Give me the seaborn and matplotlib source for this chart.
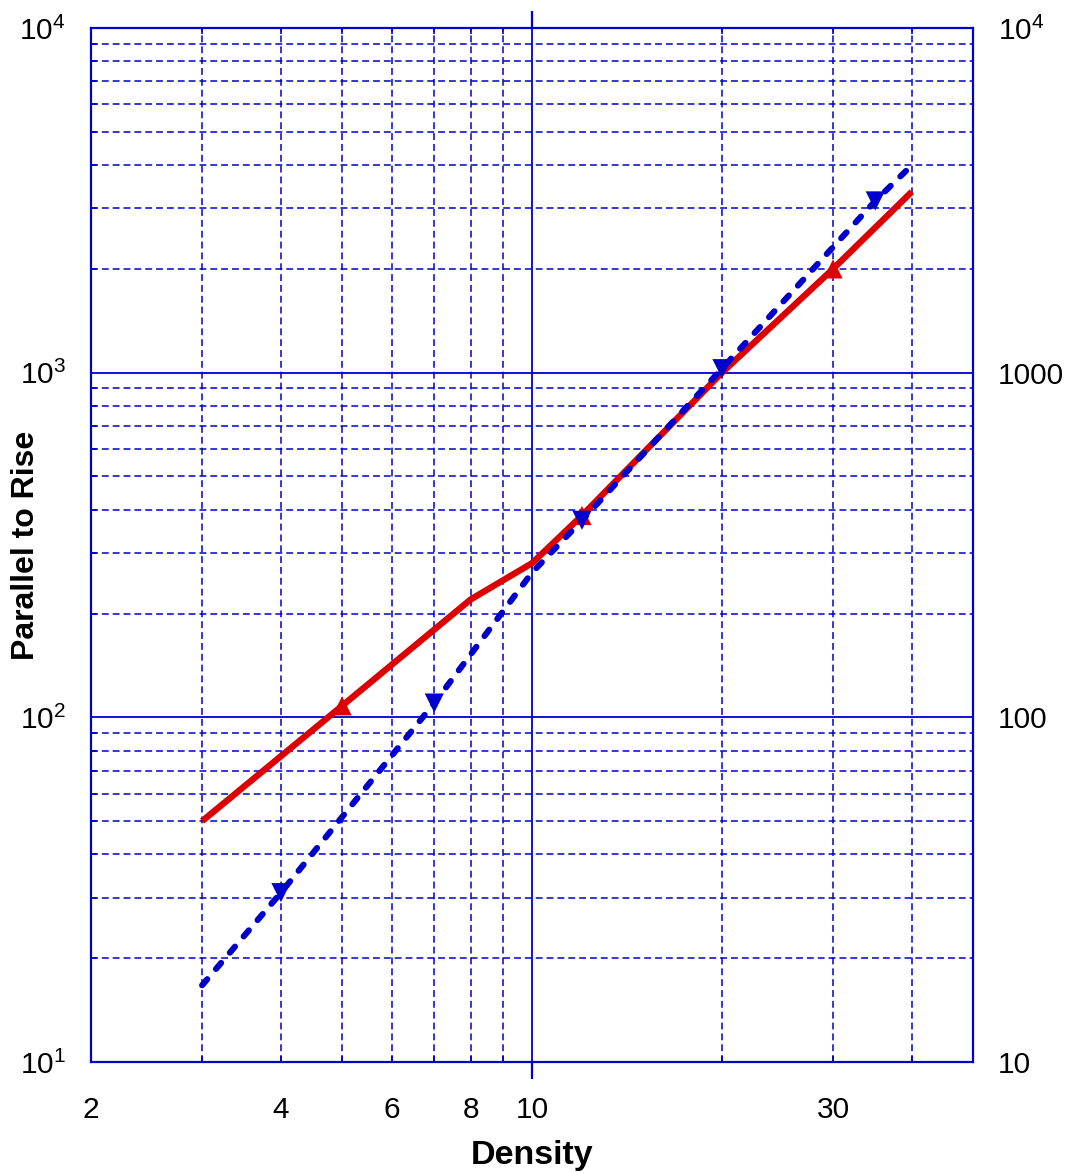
import matplotlib
matplotlib.use("Agg")
import matplotlib.pyplot as plt
import seaborn as sns
import pandas as pd

# ---- data ----
red_x = [3, 5, 8, 10, 12, 20, 30, 40]
red_y = [50, 108, 220, 280, 385, 1000, 2000, 3350]
red_mx = [5, 12, 30]
red_my = [108, 385, 2000]

blue_x = [3, 4, 7, 10, 12, 20, 35, 40]
blue_y = [16.7, 31, 110, 263, 373, 1027, 3150, 4000]
blue_mx = [4, 7, 12, 20, 35]
blue_my = [31, 110, 373, 1027, 3150]

x_major = [10]
x_minor = [2, 3, 4, 5, 6, 7, 8, 9, 20, 30, 40]
x_minor_labels = ["2", "", "4", "", "6", "", "8", "", "", "30", ""]
y_major = [10, 100, 1000, 10000]
y_left_labels = [r"$\mathregular{10^1}$", r"$\mathregular{10^2}$", r"$\mathregular{10^3}$", r"$\mathregular{10^4}$"]
y_right_labels = ["10", "100", "1000", r"$\mathregular{10^4}$"]
y_minor = [m * d for d in (10, 100, 1000) for m in range(2, 10)]

x_label = "Density"
y_label = "Parallel to Rise"

# ---- style ----
sns.set_style("white")
plt.rcParams["font.family"] = ["Liberation Sans", "DejaVu Sans"]
plt.rcParams["mathtext.fontset"] = "custom"
plt.rcParams["mathtext.rm"] = "Liberation Sans"
plt.rcParams["mathtext.it"] = "Liberation Sans:italic"
plt.rcParams["mathtext.bf"] = "Liberation Sans:bold"
plt.rcParams["text.color"] = "black"
plt.rcParams["axes.labelcolor"] = "black"

BLUE = "#0000CC"
RED = "#DD0000"
TICK_FS = 21.5

fig = plt.figure(figsize=(10.71, 11.73), dpi=100)
ax = fig.add_axes([91 / 1071, 1 - 1062 / 1173, 882 / 1071, 1034 / 1173])

red_df = pd.DataFrame({"x": red_x, "y": red_y})
blue_df = pd.DataFrame({"x": blue_x, "y": blue_y})

sns.lineplot(data=red_df, x="x", y="y", ax=ax, color=RED, lw=4.6,
             solid_capstyle="butt", sort=False, zorder=3)
sns.scatterplot(x=red_mx, y=red_my, ax=ax, marker="^", s=190, color=RED,
                edgecolor="none", zorder=4)
sns.lineplot(data=blue_df, x="x", y="y", ax=ax, color=BLUE, lw=4.4,
             linestyle=(0, (1.3, 2.2)), dash_capstyle="round", sort=False, zorder=5)
sns.scatterplot(x=blue_mx, y=blue_my, ax=ax, marker="v", s=190, color=BLUE,
                edgecolor="none", zorder=6)

ax.set_xscale("log")
ax.set_yscale("log")
ax.set_xlim(2, 50)
ax.set_ylim(10, 10000)

ax.set_xticks(x_major, labels=["10"])
ax.set_xticks(x_minor, labels=x_minor_labels, minor=True)
ax.set_yticks(y_major, labels=y_left_labels)
ax.set_yticks(y_minor, labels=[""] * len(y_minor), minor=True)

ax.tick_params(axis="x", which="major", direction="out", length=12, width=1.6,
               color=BLUE, pad=12.5, labelsize=TICK_FS, top=True, bottom=True, labelcolor="black")
ax.tick_params(axis="x", which="minor", direction="in", length=4.5, width=1.2,
               color=BLUE, pad=24.5, labelsize=TICK_FS, top=True, bottom=True, labelcolor="black")
ax.tick_params(axis="y", which="major", length=0, pad=18, labelsize=TICK_FS, labelcolor="black")
ax.tick_params(axis="y", which="minor", direction="in", length=4.5, width=1.2,
               color=BLUE, left=True, right=True)

ax.grid(True, which="major", ls="-", lw=1.3, color=BLUE)
ax.grid(True, which="minor", ls=(0, (4.5, 2.6)), lw=1.1, color=BLUE)
ax.set_axisbelow(True)

for s in ax.spines.values():
    s.set_color(BLUE)
    s.set_linewidth(1.6)
    s.set_visible(True)

ax.set_xlabel(x_label, fontsize=24.5, fontweight="bold", color="black")
ax.set_ylabel(y_label, fontsize=23, fontweight="bold", color="black")
ax.xaxis.set_label_coords(0.5, -0.0755)
ax.yaxis.set_label_coords(-0.057, 0.5)

ax2 = ax.twinx()
ax2.set_yscale("log")
ax2.set_ylim(10, 10000)
ax2.set_yticks(y_major, labels=y_right_labels)
ax2.set_yticks([], minor=True)
ax2.tick_params(axis="y", which="major", length=0, pad=18, labelsize=TICK_FS, labelcolor="black")
ax2.grid(False)
for s in ax2.spines.values():
    s.set_visible(False)

fig.savefig("out.png", dpi=100)
